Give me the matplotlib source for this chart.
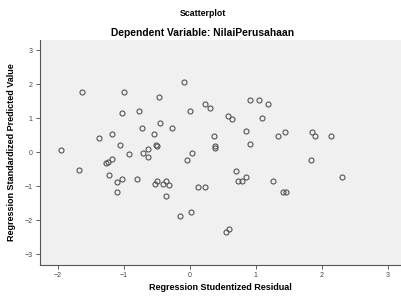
import matplotlib.pyplot as plt
import numpy as np

# Regression studentized residual (x) vs standardized predicted value (y)
resid = [-1.94, -1.68, -1.625, -1.37, -1.27, -1.23, -1.18, -1.22, -1.18, -1.06,
         -1.03, -1.10, -1.10, -1.02, -0.994, -0.92, -0.80, -0.762, -0.717, -0.70,
         -0.635, -0.626, -0.545, -0.51, -0.50, -0.525, -0.49, -0.41, -0.36, -0.31,
         -0.36, -0.46, -0.45, -0.26, -0.14, -0.09, 0.005, 0.04, -0.04, 0.02,
         0.13, 0.236, 0.236, 0.307, 0.37, 0.38, 0.38, 0.545, 0.59, 0.58,
         0.635, 0.705, 0.73, 0.79, 0.85, 0.856, 0.91, 0.917, 1.05, 1.09,
         1.18, 1.255, 1.345, 1.445, 1.41, 1.46, 1.83, 1.85, 1.90, 2.14, 2.30]
pred = [0.06, -0.52, 1.78, 0.43, -0.30, -0.29, -0.21, -0.68, 0.53, 0.21,
        -0.77, -0.88, -1.18, 1.165, 1.78, -0.05, -0.77, 1.205, 0.72, -0.02,
        0.09, -0.13, 0.53, 0.21, 0.20, -0.94, -0.85, -0.93, -0.85, -0.97,
        -1.29, 1.64, 0.87, 0.72, -1.87, 2.06, 1.21, -0.01, -0.22, -1.76,
        -1.03, -1.03, 1.43, 1.29, 0.48, 0.19, 0.14, -2.34, -2.26, 1.06,
        0.98, -0.55, -0.835, -0.835, -0.72, 0.635, 0.235, 1.53, 1.53, 1.01,
        1.41, -0.835, 0.47, 0.60, -1.17, -1.17, -0.23, 0.60, 0.47, 0.47, -0.72]

xticks = [-2, -1, 0, 1, 2, 3]
yticks = [-3, -2, -1, 0, 1, 2, 3]

plt.rcParams['font.family'] = ['Liberation Sans', 'DejaVu Sans']

fig = plt.figure(figsize=(4.01, 2.97), dpi=100)
ax = fig.add_axes([39.7 / 401, 32 / 297, (401 - 39.7) / 401, (265 - 40) / 297])
ax.set_facecolor('#f0f0f0')

ax.plot(resid, pred, linestyle='none', marker='o', markersize=3.6,
        markerfacecolor='none', markeredgecolor='#555555', markeredgewidth=0.8)

ax.set_xlim(-2.27, 3.2)
ax.set_ylim(-3.31, 3.3)
ax.set_xticks(xticks)
ax.set_yticks(yticks)
ax.tick_params(labelsize=5, colors='#444444', length=3, width=0.6, pad=2)

for s in ['top', 'right']:
    ax.spines[s].set_visible(False)
for s in ['left', 'bottom']:
    ax.spines[s].set_color('#555555')
    ax.spines[s].set_linewidth(0.8)

ax.set_xlabel('Regression Studentized Residual', fontsize=6.5, fontweight='bold',
              labelpad=3)
ax.set_ylabel('Regression Standardized Predicted Value', fontsize=6.5,
              fontweight='bold', labelpad=6)

fig.text(203 / 401, 1 - 14 / 297, 'Scatterplot', ha='center', va='center',
         fontsize=6.3, fontweight='bold')
fig.text(203 / 401, 1 - 33 / 297, 'Dependent Variable: NilaiPerusahaan',
         ha='center', va='center', fontsize=7.4, fontweight='bold')

fig.savefig('out.png', dpi=100)
